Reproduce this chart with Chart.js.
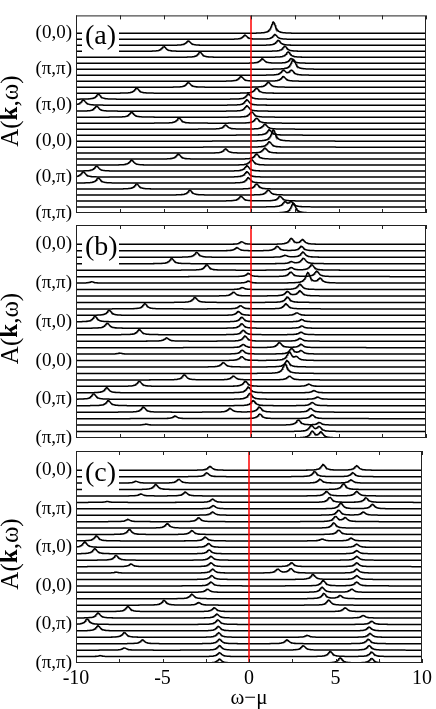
<!DOCTYPE html>
<html>
<head>
<meta charset="utf-8">
<script src="https://cdn.jsdelivr.net/npm/chart.js@4.4.1/dist/chart.umd.min.js"></script>
<style>
  html, body { margin: 0; padding: 0; background: #fff; }
  #wrap { position: relative; width: 436px; height: 709px; }
  canvas { position: absolute; left: 0; top: 0; }
</style>
</head>
<body>
<div id="wrap">
  <canvas id="ca" width="436" height="709"></canvas>
  <canvas id="cb" width="436" height="709"></canvas>
  <canvas id="cc" width="436" height="709"></canvas>
</div>
<script>
// k-path labels, one every 6 k-points (31 spectra per panel)
const rowLabels = ['(0,0)', '(π,π)', '(π,0)', '(0,0)', '(0,π)', '(π,π)'];
const labelRows = [0, 6, 12, 18, 24, 30];
const xTickValues = [-10, -7.5, -5, -2.5, 0, 2.5, 5, 7.5, 10];
const xLabelValues = [-10, -5, 0, 5, 10];

// peaks: [omega - mu, height in row units], row 0 = top
const peaksA = [
  [[1.28, 1.9]],
  [[-0.34, 0.7], [1.37, 0.8]],
  [[-3.58, 0.75], [1.56, 0.85]],
  [[-4.98, 0.8], [1.94, 0.85]],
  [[-2.91, 0.85], [2.13, 0.9]],
  [[0.65, 0.75], [2.3, 0.8]],
  [[2.42, 1.7]],
  [[1.85, 0.8], [2.32, 0.8]],
  [[-0.57, 0.8], [1.85, 0.8]],
  [[-3.58, 0.8], [0.99, 0.85]],
  [[-6.53, 0.85], [0.32, 0.85]],
  [[-8.72, 0.85], [-0.15, 0.9]],
  [[-9.58, 0.9], [-0.23, 0.9]],
  [[-8.82, 0.85], [-0.23, 0.9]],
  [[-6.82, 0.85], [0.04, 0.9]],
  [[-4.11, 0.85], [0.32, 0.85]],
  [[-1.45, 0.7], [0.8, 0.85]],
  [[1.05, 0.9]],
  [[1.28, 1.9]],
  [[1.05, 0.9]],
  [[-1.45, 0.7], [0.8, 0.85]],
  [[-4.15, 0.85], [0.32, 0.85]],
  [[-6.82, 0.85], [0.04, 0.9]],
  [[-8.82, 0.85], [-0.23, 0.9]],
  [[-9.58, 0.9], [-0.23, 0.9]],
  [[-8.72, 0.85], [-0.15, 0.9]],
  [[-6.53, 0.85], [0.32, 0.85]],
  [[-3.49, 0.8], [0.99, 0.85]],
  [[-0.57, 0.8], [1.66, 0.8]],
  [[1.94, 0.8], [2.3, 0.8]],
  [[2.42, 1.7]]
];

const peaksB = [
  [[-0.53, 0.4], [2.3, 0.9], [2.95, 0.7]],
  [[-0.8, 0.5], [1.5, 0.7], [2.88, 0.7]],
  [[-3.1, 0.75], [1.95, 0.3], [2.97, 0.8]],
  [[-4.53, 0.8], [2.3, 0.3], [3.0, 0.85]],
  [[-2.53, 0.85], [2.3, 0.4], [3.47, 0.85]],
  [[-0.15, 0.5], [2.27, 0.7], [3.76, 0.85]],
  [[-9.1, 0.2], [-0.15, 0.3], [3.25, 1.6], [3.95, 0.7]],
  [[-0.5, 0.3], [2.8, 0.85]],
  [[-1.0, 0.6], [2.08, 0.7], [2.8, 0.8]],
  [[-3.2, 0.8], [2.08, 0.85]],
  [[-6.06, 0.8], [-0.6, 0.5], [2.0, 0.8]],
  [[-8.1, 0.8], [-0.72, 0.6], [2.62, 0.4]],
  [[-8.91, 0.85], [-0.53, 0.7], [2.9, 0.35]],
  [[-8.21, 0.8], [-0.53, 0.7], [2.9, 0.35]],
  [[-6.38, 0.8], [-0.44, 0.7], [2.86, 0.4]],
  [[-4.82, 0.5], [-0.34, 0.8], [2.8, 0.45]],
  [[-0.44, 0.5], [1.62, 0.8], [2.86, 0.5]],
  [[-7.5, 0.15], [-0.5, 0.6], [2.32, 0.85], [2.86, 0.5]],
  [[-0.53, 0.6], [2.19, 1.3], [2.6, 0.5]],
  [[-1.58, 0.7], [2.06, 1.0]],
  [[1.95, 1.5]],
  [[-3.81, 0.8], [-1.0, 0.6], [2.2, 0.6]],
  [[-6.38, 0.8], [-0.32, 0.8], [3.3, 0.35]],
  [[-8.24, 0.8], [-0.15, 0.9], [3.6, 0.35]],
  [[-8.99, 0.85], [-0.06, 0.9], [3.8, 0.35]],
  [[-8.15, 0.8], [0.13, 0.8], [3.5, 0.5]],
  [[-6.15, 0.8], [-1.2, 0.6], [0.48, 0.8], [3.4, 0.6]],
  [[-4.34, 0.4], [0.51, 0.7], [3.5, 0.6]],
  [[-6.0, 0.15], [2.71, 0.8], [3.9, 0.4]],
  [[3.45, 0.9], [3.9, 0.7]],
  [[3.5, 1.0], [4.0, 0.9]]
];

const peaksC = [
  [[-2.25, 0.6], [4.29, 0.9], [6.23, 0.7]],
  [[-2.44, 0.6], [3.79, 0.8], [6.0, 0.6]],
  [[-6.53, 0.3], [-4.06, 0.6], [4.1, 0.6], [5.9, 0.5]],
  [[-5.39, 0.8], [5.47, 0.9]],
  [[-6.25, 0.3], [-3.68, 0.6], [4.48, 0.7], [6.23, 0.7]],
  [[-8.2, 0.15], [-2.1, 0.5], [4.67, 0.8], [6.76, 0.7]],
  [[-2.06, 0.5], [5.31, 0.9], [7.14, 0.7]],
  [[-2.1, 0.5], [5.18, 0.8], [6.61, 0.5]],
  [[-7.0, 0.35], [-2.91, 0.6], [5.0, 0.8], [5.56, 0.6]],
  [[-4.72, 0.7], [4.9, 0.8]],
  [[-6.91, 0.8], [-3.3, 0.6], [5.18, 0.7]],
  [[-8.82, 0.8], [-2.53, 0.6], [4.23, 0.3], [5.9, 0.45]],
  [[-9.49, 0.85], [-2.34, 0.6], [6.23, 0.5]],
  [[-8.91, 0.8], [-2.3, 0.6], [6.23, 0.5]],
  [[-7.68, 0.75], [-2.2, 0.6], [6.23, 0.6]],
  [[-6.82, 0.4], [-2.2, 0.6], [2.46, 0.6], [6.23, 0.6]],
  [[-7.68, 0.15], [-2.1, 0.6], [1.66, 0.6], [2.42, 0.7], [6.23, 0.6]],
  [[-2.15, 0.6], [3.7, 0.8], [6.23, 0.6]],
  [[-2.2, 0.6], [4.29, 0.85], [6.23, 0.6]],
  [[-2.4, 0.5], [4.23, 0.8], [5.94, 0.5]],
  [[-3.3, 0.7], [4.33, 0.8], [5.27, 0.5]],
  [[-4.91, 0.75], [-2.91, 0.4], [4.61, 0.8]],
  [[-7.0, 0.8], [-2.0, 0.6], [5.56, 0.6]],
  [[-8.72, 0.8], [-1.85, 0.6], [6.6, 0.4]],
  [[-9.35, 0.85], [-1.8, 0.7], [7.09, 0.5]],
  [[-8.72, 0.8], [-1.77, 0.7], [6.95, 0.6]],
  [[-7.2, 0.75], [-1.75, 0.7], [3.37, 0.3], [7.0, 0.6]],
  [[-6.15, 0.6], [-1.7, 0.7], [2.2, 0.6], [6.9, 0.7]],
  [[-7.2, 0.35], [-1.7, 0.7], [3.14, 0.7], [6.95, 0.7]],
  [[-8.6, 0.15], [-1.7, 0.6], [4.7, 0.8], [7.09, 0.7]],
  [[-1.7, 0.6], [5.28, 0.8], [7.09, 0.7]]
];

const GAMMA = 0.15; // lorentzian half width of each quasiparticle peak
const SERIF = '"Liberation Serif", "Times New Roman", Times, serif';

// one spectrum: offset baseline plus lorentzian peaks
function spectrum(peaks, row) {
  const base = peaksA.length - 1 - row;
  const ws = [];
  for (let k = 0; k <= 800; k++) ws.push(-10 + k * 0.025);
  peaks.forEach(p => ws.push(p[0]));
  ws.sort((a, b) => a - b);
  return ws.map(w => ({
    x: w,
    y: base + peaks.reduce((s, p) => s + p[1] * GAMMA * GAMMA / ((w - p[0]) ** 2 + GAMMA * GAMMA), 0)
  }));
}

const deco = {
  id: 'deco',
  afterDatasetsDraw(chart, args, opts) {
    const { ctx, chartArea: a, scales: { x, y } } = chart;
    ctx.save();

    // panel letter on a white box
    const y0 = y.getPixelForValue(30);
    ctx.fillStyle = '#fff';
    ctx.fillRect(a.left + 6, y0 - 15, 37, 37);
    ctx.fillStyle = '#000';
    ctx.font = '28px ' + SERIF;
    ctx.textBaseline = 'middle';
    ctx.textAlign = 'left';
    ctx.fillText(opts.letter, a.left + 9, y0 + 3);

    // frame and inward ticks
    ctx.strokeStyle = '#222';
    ctx.lineWidth = 1;
    ctx.strokeRect(a.left + 0.5, a.top + 0.5, a.width - 1, a.height - 1);
    ctx.beginPath();
    xTickValues.forEach(v => {
      const px = Math.round(x.getPixelForValue(v)) + 0.5;
      ctx.moveTo(px, a.top);
      ctx.lineTo(px, a.top + 4);
      ctx.moveTo(px, a.bottom);
      ctx.lineTo(px, a.bottom - 4);
    });
    ctx.stroke();

    // y title A(k,w) with bold k
    const parts = [['A(', ''], ['k', 'bold '], [',ω)', '']];
    ctx.translate(11, (a.top + a.bottom) / 2 - 3);
    ctx.rotate(-Math.PI / 2);
    let total = 0;
    parts.forEach(p => { ctx.font = p[1] + '25px ' + SERIF; total += ctx.measureText(p[0]).width; });
    let cx = -total / 2;
    parts.forEach(p => {
      ctx.font = p[1] + '25px ' + SERIF;
      ctx.fillText(p[0], cx, 0);
      cx += ctx.measureText(p[0]).width;
    });
    ctx.restore();

    if (opts.xTitle) {
      ctx.save();
      ctx.fillStyle = '#000';
      ctx.font = '21px ' + SERIF;
      ctx.textAlign = 'center';
      ctx.textBaseline = 'alphabetic';
      ctx.fillText(opts.xTitle, x.getPixelForValue(0), a.bottom + 41);
      ctx.restore();
    }
  }
};

function makePanel(id, peaks, letter, pad, showX) {
  const datasets = [{
    data: [{ x: 0, y: 0 }, { x: 0, y: 33 }],
    borderColor: '#ff0000',
    borderWidth: 1.5,
    pointRadius: 0,
    order: -1
  }];
  peaks.forEach((p, i) => {
    datasets.push({
      data: spectrum(p, i),
      borderColor: '#000',
      borderWidth: 1.5,
      pointRadius: 0,
      tension: 0
    });
  });

  new Chart(document.getElementById(id), {
    type: 'line',
    data: { datasets: datasets },
    options: {
      responsive: false,
      animation: false,
      events: [],
      layout: { autoPadding: false, padding: pad },
      plugins: {
        legend: { display: false },
        tooltip: { enabled: false },
        deco: { letter: letter, xTitle: showX ? 'ω−μ' : null }
      },
      scales: {
        x: {
          type: 'linear',
          min: -10,
          max: 10,
          display: showX,
          grid: { display: false, drawTicks: false },
          border: { display: false },
          afterBuildTicks: s => { s.ticks = xLabelValues.map(v => ({ value: v })); },
          afterFit: s => { s.height = showX ? 46 : 0; },
          ticks: {
            autoSkip: false,
            maxRotation: 0,
            padding: 4,
            color: '#000',
            font: { family: SERIF, size: 20 },
            callback: v => (v < 0 ? '-' + (-v) : String(v))
          }
        },
        y: {
          type: 'linear',
          min: 0,
          max: 33,
          grid: { display: false, drawTicks: false },
          border: { display: false },
          afterBuildTicks: s => { s.ticks = labelRows.map(r => ({ value: 30 - r })); },
          afterFit: s => { s.width = 76; },
          ticks: {
            autoSkip: false,
            padding: 4,
            color: '#000',
            font: { family: SERIF, size: 19 },
            callback: v => rowLabels[labelRows.indexOf(30 - v)]
          }
        }
      }
    },
    plugins: [deco]
  });
}

makePanel('ca', peaksA, '(a)', { top: 1, bottom: 496, left: 0, right: 10 }, false);
makePanel('cb', peaksB, '(b)', { top: 225, bottom: 271, left: 0, right: 10 }, false);
makePanel('cc', peaksC, '(c)', { top: 451, bottom: 0, left: 0, right: 10 }, true);
</script>
</body>
</html>
